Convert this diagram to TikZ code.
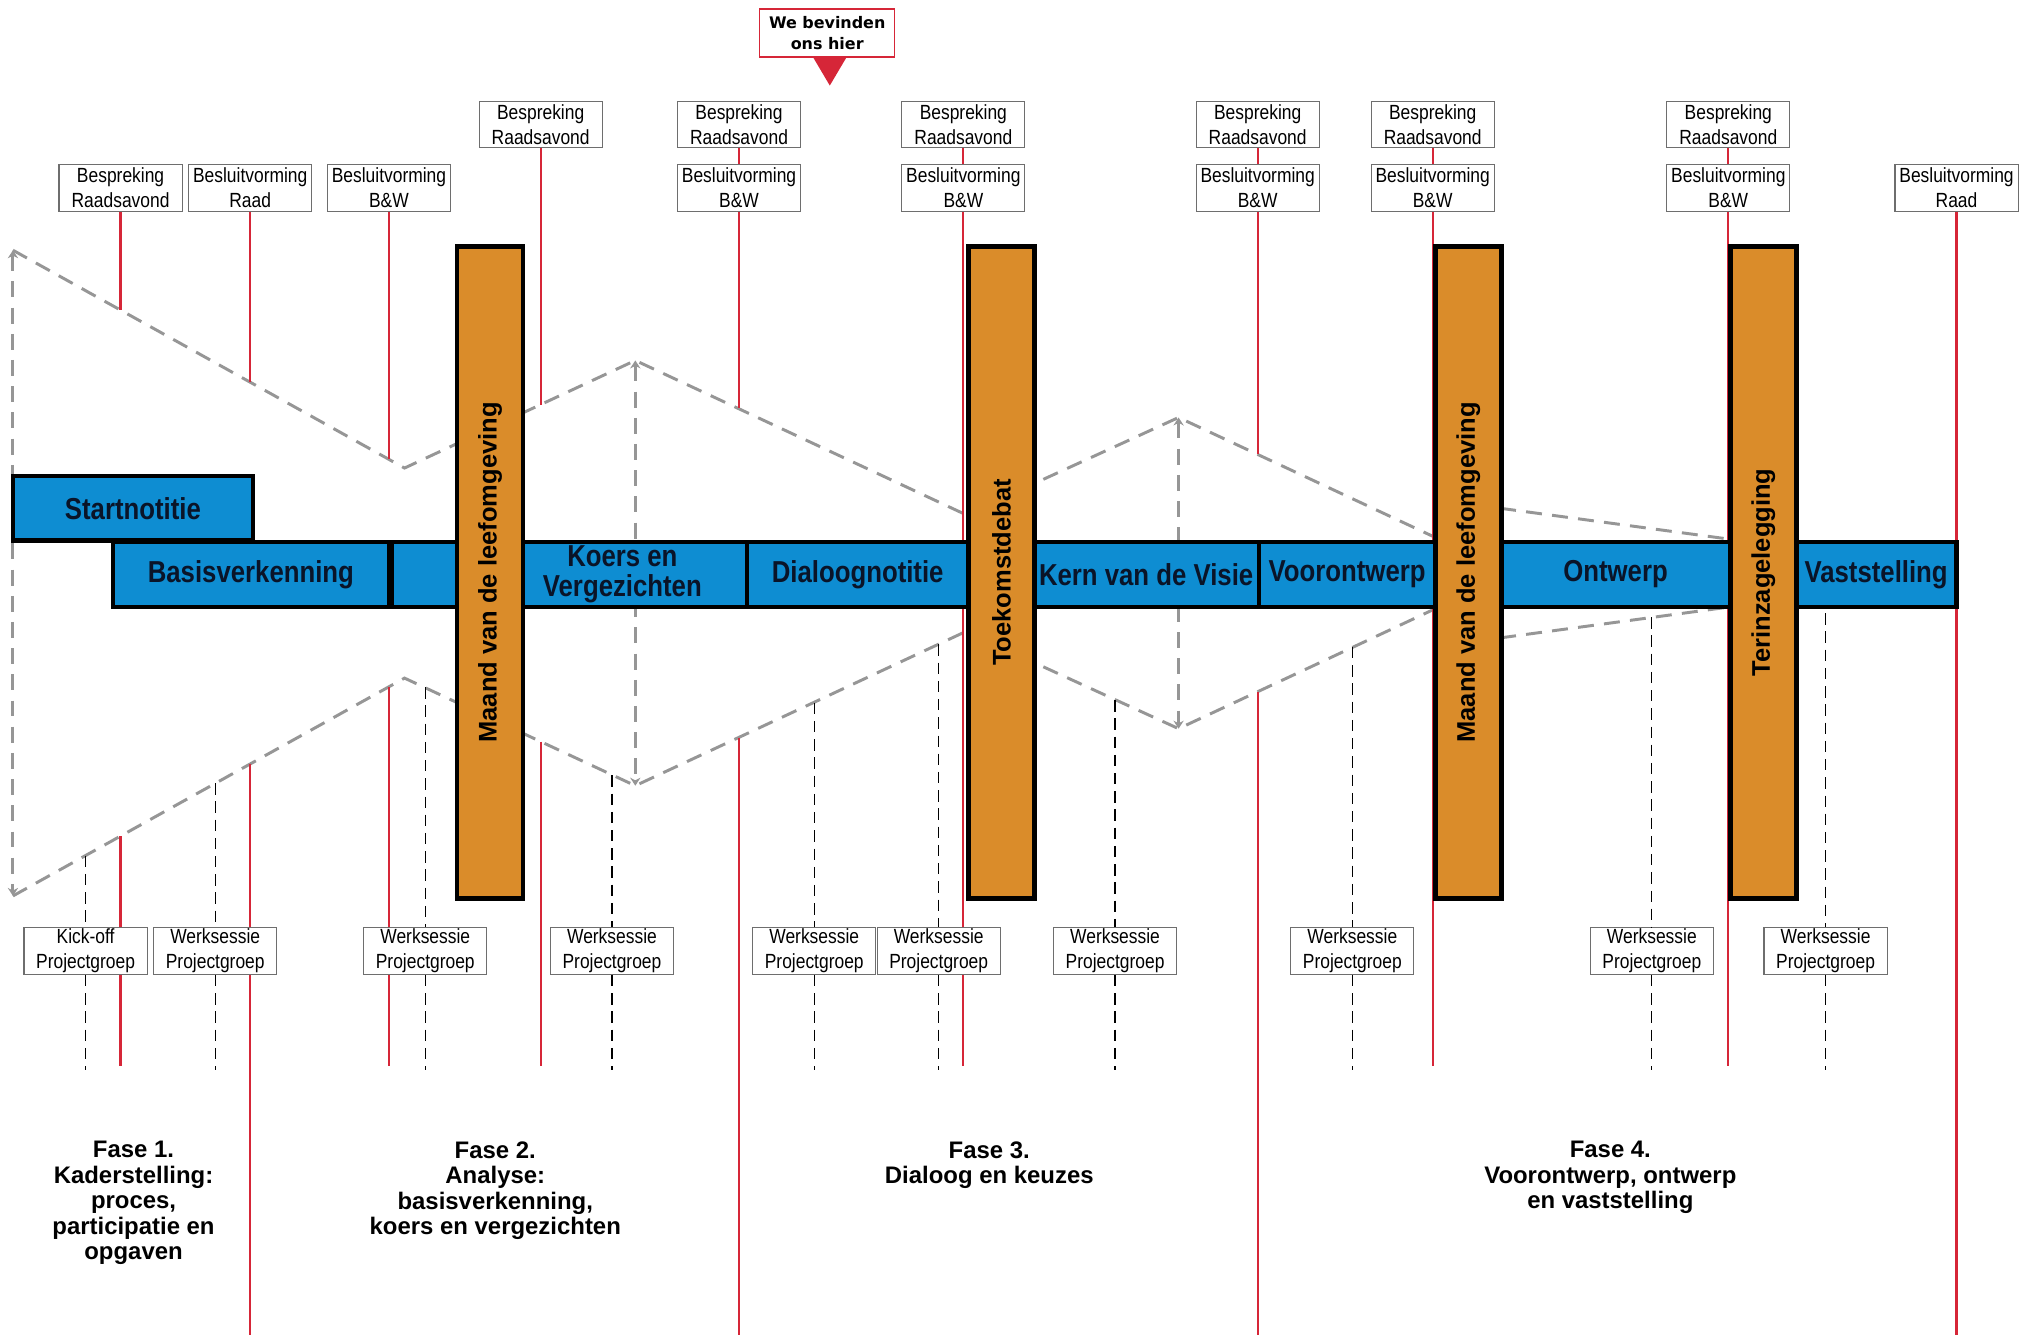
\documentclass[tikz,border=0pt]{standalone}
\usepackage{fontspec}
\setmainfont{Liberation Sans}
\newfontfamily\narrowfont[FakeStretch=0.85]{Liberation Sans}
\newfontfamily\pointerfont{DejaVu Sans}
\usetikzlibrary{arrows.meta}
\definecolor{bandblue}{RGB}{14,141,210}
\definecolor{barorange}{RGB}{218,140,42}
\definecolor{linered}{RGB}{214,38,56}
\definecolor{funnelgray}{RGB}{150,150,150}
\definecolor{boxgray}{RGB}{110,110,110}
\definecolor{textnavy}{RGB}{10,20,40}

\begin{document}
\begin{tikzpicture}[x=0.02cm, y=-0.02cm]

		\tikzset{meeting/.style = {draw=boxgray, fill=white, line width=0.5pt, minimum width=1.9cm, minimum height=0.72cm, inner sep=0pt, align=center, font=\narrowfont\fontsize{9pt}{11pt}\selectfont}}
		\tikzset{band/.style = {draw=black, fill=bandblue, line width=2pt, minimum height=1cm, inner sep=0pt, text=textnavy, font=\narrowfont\bfseries\fontsize{13.3pt}{13pt}\selectfont}}
		\tikzset{bandlabel/.style = {align=center, inner sep=0pt, text=textnavy, font=\narrowfont\bfseries\fontsize{13.3pt}{13pt}\selectfont}}
		\tikzset{bar/.style = {draw=black, fill=barorange, line width=2pt, rotate=90, minimum width=10.06cm, minimum height=1.02cm, inner sep=0pt, font=\bfseries\fontsize{11.2pt}{13pt}\selectfont}}
		\tikzset{redline/.style = {draw=linered, line width=1pt}}
		\tikzset{funnel/.style = {draw=funnelgray, line width=1.3pt, dash pattern=on 7pt off 4.5pt, > = {Stealth[length=3.5pt, width=4.5pt]}}}
		\tikzset{workline/.style = {draw=black, line width=0.5pt, dash pattern=on 5pt off 3pt}}
		\tikzset{phase/.style = {align=center, anchor=north, inner sep=0pt, font=\bfseries\fontsize{10.5pt}{11.2pt}\selectfont}}
		\tikzset{pointer/.style = {draw=linered, fill=white, line width=0.6pt, minimum width=2.08cm, minimum height=0.74cm, inner sep=0pt, align=center, font=\pointerfont\bfseries\fontsize{7pt}{9.5pt}\selectfont}}

		\useasboundingbox (0,0) rectangle (1568,1030);

		% meetings at the top
		\node[meeting] (b1) at (93,145) {Bespreking\\Raadsavond};
		\node[meeting] (b2) at (193,145) {Besluitvorming\\Raad};
		\node[meeting] (b3) at (300,145) {Besluitvorming\\B\&W};
		\node[meeting] (b4) at (570,145) {Besluitvorming\\B\&W};
		\node[meeting] (b5) at (743,145) {Besluitvorming\\B\&W};
		\node[meeting] (b6) at (970,145) {Besluitvorming\\B\&W};
		\node[meeting] (b7) at (1105,145) {Besluitvorming\\B\&W};
		\node[meeting] (b8) at (1333,145) {Besluitvorming\\B\&W};
		\node[meeting] (b9) at (1509,145) {Besluitvorming\\Raad};
		\node[meeting] (p1) at (417,96) {Bespreking\\Raadsavond};
		\node[meeting] (p2) at (570,96) {Bespreking\\Raadsavond};
		\node[meeting] (p3) at (743,96) {Bespreking\\Raadsavond};
		\node[meeting] (p4) at (970,96) {Bespreking\\Raadsavond};
		\node[meeting] (p5) at (1105,96) {Bespreking\\Raadsavond};
		\node[meeting] (p6) at (1333,96) {Bespreking\\Raadsavond};

		% funnel
		\draw[funnel] (10,193) -- (312,361) -- (490,278) -- (745,397) -- (909,322) -- (1108,415);
		\draw[funnel] (1157,392) -- (1335,416);
		\draw[funnel] (10,691) -- (312,523) -- (490,606) -- (745,487) -- (909,562) -- (1108,469);
		\draw[funnel] (1157,492) -- (1335,468);
		\draw[funnel, <->] (10,193) -- (10,691);
		\draw[funnel, <->] (490,278) -- (490,606);
		\draw[funnel, <->] (909,322) -- (909,562);

		% red lines
		\coordinate (ru1) at (93,239);
		\coordinate (ru2) at (193,295);
		\coordinate (ru3) at (300,354);
		\coordinate (ru4) at (417,312);
		\coordinate (ru5) at (570,315);
		\coordinate (ru6) at (970,350);
		\coordinate (rl1) at (93,645);
		\coordinate (rl2) at (193,589);
		\coordinate (rl3) at (300,530);
		\coordinate (rl4) at (417,572);
		\coordinate (rl5) at (570,569);
		\coordinate (rl6) at (970,534);
		\coordinate (re1) at (93,822);
		\coordinate (re2) at (193,1030);
		\coordinate (re3) at (300,822);
		\coordinate (re4) at (417,822);
		\coordinate (re5) at (570,1030);
		\coordinate (re6) at (970,1030);
		\coordinate (re7) at (743,822);
		\coordinate (re8) at (1105,822);
		\coordinate (re9) at (1333,822);
		\coordinate (re10) at (1509,1030);
		\draw[redline] (p2) to (b4);
		\draw[redline] (p3) to (b5);
		\draw[redline] (p4) to (b6);
		\draw[redline] (p5) to (b7);
		\draw[redline] (p6) to (b8);
		\draw[redline] (b1) to (ru1);
		\draw[redline] (b2) to (ru2);
		\draw[redline] (b3) to (ru3);
		\draw[redline] (p1) to (ru4);
		\draw[redline] (b4) to (ru5);
		\draw[redline] (b6) to (ru6);
		\draw[redline] (b5) to (re7);
		\draw[redline] (b7) to (re8);
		\draw[redline] (b8) to (re9);
		\draw[redline] (b9) to (re10);
		\draw[redline] (rl1) to (re1);
		\draw[redline] (rl2) to (re2);
		\draw[redline] (rl3) to (re3);
		\draw[redline] (rl4) to (re4);
		\draw[redline] (rl5) to (re5);
		\draw[redline] (rl6) to (re6);

		% meetings at the bottom
		\node[meeting] (w1) at (66,733.5) {Kick-off\\Projectgroep};
		\node[meeting] (w2) at (166,733.5) {Werksessie\\Projectgroep};
		\node[meeting] (w3) at (328,733.5) {Werksessie\\Projectgroep};
		\node[meeting] (w4) at (472,733.5) {Werksessie\\Projectgroep};
		\node[meeting] (w5) at (628,733.5) {Werksessie\\Projectgroep};
		\node[meeting] (w6) at (724,733.5) {Werksessie\\Projectgroep};
		\node[meeting] (w7) at (860,733.5) {Werksessie\\Projectgroep};
		\node[meeting] (w8) at (1043,733.5) {Werksessie\\Projectgroep};
		\node[meeting] (w9) at (1274,733.5) {Werksessie\\Projectgroep};
		\node[meeting] (w10) at (1408,733.5) {Werksessie\\Projectgroep};

		% dashed lines
		\coordinate (wt1) at (66,660);
		\coordinate (wt2) at (166,604);
		\coordinate (wt3) at (328,530);
		\coordinate (wt4) at (472,598);
		\coordinate (wt5) at (628,542);
		\coordinate (wt6) at (724,497);
		\coordinate (wt7) at (860,540);
		\coordinate (wt8) at (1043,499);
		\coordinate (wt9) at (1274,476);
		\coordinate (wt10) at (1408,473);
		\foreach \i/\x in {1/66,2/166,3/328,4/472,5/628,6/724,7/860,8/1043,9/1274,10/1408}
			{\coordinate (wb\i) at (\x,825);
			 \draw[workline] (wt\i) -- (w\i) -- (wb\i);}

		% band
		\node[band, minimum width=3.7cm] (start) at (102.5,392) {Startnotitie};
		\node[band, minimum width=4.26cm] (basis) at (193.5,443) {Basisverkenning};
		\node[band, minimum width=5.48cm] (koers) at (439,443) {};
		\node[band, minimum width=3.42cm] (dialoog) at (661.5,443) {Dialoognotitie};
		\node[band, minimum width=3.48cm] (kern) at (884,443) {Kern van de Visie};
		\node[band, minimum width=2.72cm] (voor) at (1039,443) {Voorontwerp};
		\node[band, minimum width=3.56cm] (ontwerp) at (1246,443) {Ontwerp};
		\node[band, minimum width=2.48cm] (vast) at (1447,443) {Vaststelling};
		\node[bandlabel] (koerstext) at (480,443) {Koers en\\Vergezichten};

		% bars
		\node[bar] (maand1) at (378,441.5) {Maand van de leefomgeving};
		\node[bar] (debat) at (772.5,441.5) {Toekomstdebat};
		\node[bar] (maand2) at (1132.5,441.5) {Maand van de leefomgeving};
		\node[bar] (inzage) at (1360,441.5) {Terinzagelegging};

		% we are here
		\node[pointer] (here) at (638,25.5) {We bevinden\\ons hier};
		\fill[linered] (627,44) -- (653,44) -- (640,66) -- cycle;

		% phases
		\node[phase] (fase1) at (103,880) {Fase 1.\\Kaderstelling:\\proces,\\participatie en\\opgaven};
		\node[phase] (fase2) at (382,880) {Fase 2.\\Analyse:\\basisverkenning,\\koers en vergezichten};
		\node[phase] (fase3) at (763,880) {Fase 3.\\Dialoog en keuzes};
		\node[phase] (fase4) at (1242,880) {Fase 4.\\Voorontwerp, ontwerp\\en vaststelling};

\end{tikzpicture}
\end{document}
